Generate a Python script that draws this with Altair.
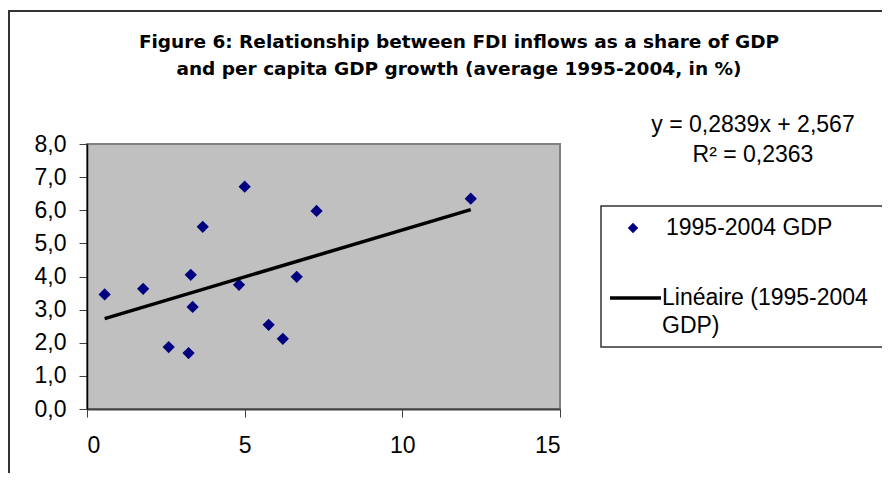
import altair as alt
import pandas as pd

# Data
fdi_share = [0.56, 1.78, 3.29, 3.35, 2.59, 3.22, 4.82, 5.76, 6.21, 6.65, 3.67, 5.00, 7.28, 12.17]
gdp_growth = [3.46, 3.63, 4.05, 3.08, 1.87, 1.69, 3.75, 2.54, 2.12, 3.99, 5.50, 6.71, 5.98, 6.35]
trend_x = [0.56, 12.17]
trend_y = [2.73, 6.02]
x_ticks = [0, 5, 10, 15]
y_ticks = [0, 1, 2, 3, 4, 5, 6, 7, 8]

title_lines = ["Figure 6: Relationship between FDI inflows as a share of GDP",
               "and per capita GDP growth (average 1995-2004, in %)"]
equation_lines = ["y = 0,2839x + 2,567", "R\u00b2 = 0,2363"]
legend_point_label = "1995-2004 GDP"
legend_line_label = ["Lin\u00e9aire (1995-2004", "GDP)"]

FONT = "Liberation Sans"
TITLE_FONT = "DejaVu Sans"

points_df = pd.DataFrame({"fdi": fdi_share, "gdp": gdp_growth})
trend_df = pd.DataFrame({"fdi": trend_x, "gdp": trend_y})
one = pd.DataFrame({"k": [0]})

xenc = alt.X("fdi:Q", scale=alt.Scale(domain=[0, 15], nice=False),
             axis=alt.Axis(values=x_ticks, tickCount=len(x_ticks), title=None, grid=False, format="d",
                           domainColor="#404040", domainWidth=2,
                           tickColor="#404040", tickSize=8, tickWidth=1,
                           labelFont=FONT, labelFontSize=23, labelColor="black",
                           labelPadding=17, labelOverlap=False))
yenc = alt.Y("gdp:Q", scale=alt.Scale(domain=[0, 8], nice=False),
             axis=alt.Axis(values=y_ticks, tickCount=len(y_ticks), title=None, grid=False,
                           labelExpr="replace(format(datum.value, '.1f'), '.', ',')",
                           domainColor="black", domainWidth=1.5,
                           tickColor="#404040", tickSize=8, tickWidth=1,
                           labelFont=FONT, labelFontSize=23, labelColor="black",
                           labelPadding=13, labelOverlap=False))

points = alt.Chart(points_df).mark_point(shape="diamond", filled=True, color="#000080",
                                          size=150, opacity=1).encode(x=xenc, y=yenc)
trend = alt.Chart(trend_df).mark_line(color="black", strokeWidth=3.5).encode(x="fdi:Q", y="gdp:Q")

frame = alt.Chart(one).mark_rect(fillOpacity=0, stroke="#333333", strokeWidth=2).encode(
    x=alt.value(-78), x2=alt.value(900), y=alt.value(-133), y2=alt.value(600))

title1 = alt.Chart(one).mark_text(font=TITLE_FONT, fontSize=18.5, fontWeight="bold", align="center",
                                  baseline="alphabetic", lineHeight=27, color="black").encode(
    x=alt.value(372), y=alt.value(-96), text=alt.value(title_lines))

equation = alt.Chart(one).mark_text(font=FONT, fontSize=23, align="center",
                                    baseline="middle", lineHeight=30, color="black").encode(
    x=alt.value(666), y=alt.value(-19), text=alt.value(equation_lines))

legend_box = alt.Chart(one).mark_rect(fill="white", stroke="#333333", strokeWidth=1.5).encode(
    x=alt.value(514), x2=alt.value(900), y=alt.value(62), y2=alt.value(203))
legend_sym = alt.Chart(one).mark_point(shape="diamond", filled=True, color="#000080",
                                       size=110, opacity=1).encode(
    x=alt.value(546), y=alt.value(84))
legend_txt1 = alt.Chart(one).mark_text(font=FONT, fontSize=23, align="left",
                                       baseline="middle", color="black").encode(
    x=alt.value(579), y=alt.value(84), text=alt.value(legend_point_label))
legend_line = alt.Chart(one).mark_rule(color="black", strokeWidth=3.5).encode(
    x=alt.value(523), x2=alt.value(574), y=alt.value(154))
legend_txt2 = alt.Chart(one).mark_text(font=FONT, fontSize=23, align="left",
                                       baseline="middle", lineHeight=28, color="black").encode(
    x=alt.value(575), y=alt.value(154), text=alt.value(legend_line_label))

chart = alt.layer(frame, points, trend, title1, equation, legend_box, legend_sym,
                  legend_txt1, legend_line, legend_txt2).properties(
    width=473, height=265,
    autosize=alt.AutoSizeParams(type="none"),
    padding={"left": 79, "top": 136, "right": 322, "bottom": 64},
    background="white",
).configure_view(fill="#C0C0C0", stroke="#808080", strokeWidth=2)

chart.save("out.html", embed_options={"renderer": "svg", "actions": False})
